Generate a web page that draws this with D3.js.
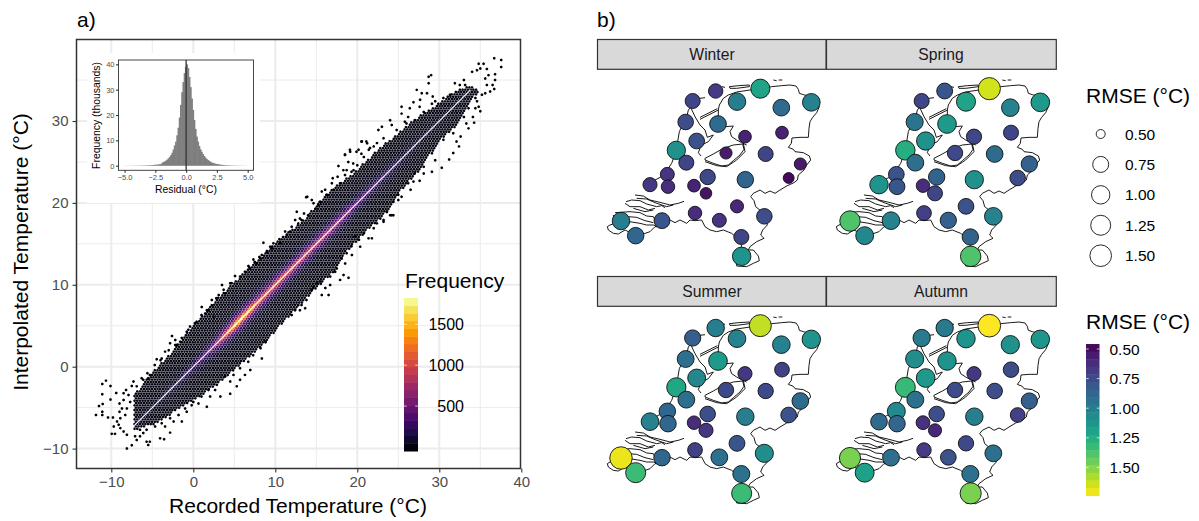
<!DOCTYPE html>
<html>
<head>
<meta charset="utf-8">
<script src="https://cdn.jsdelivr.net/npm/d3@7"></script>
<style>
  html, body { margin: 0; background: #fff; }
  svg { display: block; }
  text { font-family: "Liberation Sans", Arial, sans-serif; }
</style>
</head>
<body>
<script>
// ---- panel a: edges of the dense band (deg C)
var upperRec = [-7.3,-6.5,-4.9,-2.8,-0.8,0.8,2.9,4.9,7.3,10.2,13.4,16.3,19.5,22.4,24,26.8,29.3,31.7,33.5,34.8];
var upperInt = [-3.2,-2.6,-0.6,1.6,4.1,5.9,8.3,10.2,12.6,15.3,17.9,21.2,23.6,26.4,27.7,30.1,31.7,33.5,34.3,33.8];
var lowerRec = [-7.3,-4.5,-2,0.4,3.3,6.1,8.5,11.8,14.2,17.1,19.1,21.5,24,25.4,27.6,30.1,32.1,34,34.8];
var lowerInt = [-7.8,-6.9,-5.3,-3.9,-1.8,0.6,2.65,6.3,8.8,11.6,14.5,16.9,19.3,21.6,24,27.7,29.4,32.7,33.5];
// count along the 1:1 line and how it falls off with the residual
var ridgeRec = [-8,-4,-2,0,2,4,5,6,7,8,10,12,14,16,18,20,22,24,26,28,30,32,35];
var ridgeFreq = [30,100,180,300,500,1300,1750,1820,1650,1300,1250,1150,1050,950,750,500,350,250,150,90,60,30,5];
var profileRes = [0,0.25,0.5,0.75,1,1.5,2,3,5];
var profileShare = [1,0.75,0.48,0.3,0.18,0.07,0.025,0.005,0.001];
// single cells outside of the dense band
var outlierRec = [-11.87,-11.1,-10.65,-10.1,-9.4,-11.1,-10.1,-11.5,-11.05,-11.1,-11.1,-10.4,-9.8,-9,-8.5,-8.2,-7.3,-7.5,-7.9,-8.7,-9,-8.5,-7.7,-8.1,-8.3,-8.9,-9.3,-9.1,-9.7,-8.9,-9.95,-9.55,-8.5,-8.1,-7.1,-6.5,-7.5,-8.1,-6.9,-5.7,-5.3,-5.5,-6.1,-4.05,-3.56,-2.83,-3.44,-2.4,-1.4,-0.8,-0.2,1.65,0.63,2.05,3.3,2.66,4.5,5.3,4.5,6.3,5.7,6.95,8.36,8.8,-6.3,-5.6,-5.5,-4.46,-4,-3.44,-2.6,-2.83,-2.2,-2,-1.6,-0.8,-0.4,0.4,1.03,1.44,1.65,2.46,2.26,2.8,3.5,3.9,5.09,4.68,7.33,7.74,6.72,8.06,8.55,8.35,9.37,9.77,10.5,11.2,12,12.62,12.42,13,13.5,13.9,13.76,14.45,14.66,15.27,15.67,16.08,16.9,17,17.6,17.7,18.3,18.5,19.13,18.9,19.54,20.15,20.56,21.2,12,13,13.64,13.2,14.66,15.67,16.5,15.47,16.69,17.3,18.93,18.32,17.9,18.52,19.34,20.35,19.74,21.37,21.78,23.2,24,24.4,25,18.5,19.1,19.9,20.5,21.1,22.57,23,24,24.2,25.4,26.2,25.4,26,26.4,26.85,27.25,27.86,27.66,28.5,27.6,29.2,28.7,29,28.7,29.5,31.9,33,33.15,34,34.6,34.8,35.4,35,35.8,36,36.7,37.55,37.55,36.8,36.8,36.5,35.6,35.8,36.7,36.2,35.2,35.6,34.6,34.8,35,34.4,34.1,34.25,33.3,33.56,32.6,32.1,32.4,31.7,31.2,29.5,30.3,29.1,28.1,27.6,26.85,26.5,25.4,24.2,23.2,22.4];
var outlierInt = [-5.9,-2.1,-1.7,-2.35,-3.2,-3.37,-4,-4.8,-4.55,-5.5,-5.9,-6.2,-6.2,-4.5,-3.25,-2.85,-1.8,-2.35,-3.45,-5.1,-5.5,-4.06,-4.3,-5.1,-5.9,-6.3,-6.7,-7.1,-7.3,-7.5,-8.2,-8.2,-7.9,-8.3,-8.5,-8.5,-9.6,-10,-8.95,-9.15,-9.15,-9.55,-8.1,-8.75,-8.85,-8.05,-7.3,-6.7,-6.7,-5.5,-4.7,-4.9,-4.5,-3.65,-3.65,-2.85,-3.3,-2.4,-1.8,-1,-1.6,-0.4,1,3.06,-1.4,-0.8,-1.4,0.9,0.8,1.84,3.75,2.86,3.26,2.65,3.06,4.28,4.9,5.5,7.3,6.5,6.9,6.1,8.15,8.35,9.98,8.96,11.07,10.18,13.1,12.6,12.3,13.4,15.14,13.64,14.66,15.06,15.55,16.5,17.1,18.93,17.9,18.1,18.7,20.76,20.7,20.35,19.95,19.74,21.4,21.6,22.4,23,23.2,24.5,24,25.85,26.25,25,24,26.5,27.5,27.27,6.3,6.9,7.13,7.53,9.77,8.75,8.75,10.4,9.98,11.6,10.87,11.2,10.6,12.6,13.64,14.66,15.9,15.67,15.67,17.9,18.5,18.5,20.35,25.9,26.5,26.25,27.5,27.5,28.9,29.3,30.1,29.5,31.75,30.5,30.9,29.7,31.55,32.3,33.8,33.4,32.6,33.4,31.75,33,35.4,35.6,34.6,32.4,34.6,35,34.4,36,36.2,37,37,36.4,36.35,35.6,37.65,37.45,36.6,35.7,35,34.4,35.2,34.4,33.9,33.6,33.2,33.4,32.4,31.75,31.2,31.55,30.5,29.8,29.7,29.1,28.1,27.5,26.9,26.1,25.3,25.2,24.3,23.8,23.6,22.7,22.6,21.6,20.75,18.5,17.7,17.5];
// cells hugging the edge of the band
var fringeRec = [5.7,6.3,6.9,7.5,8.2,9,9.6,10.6,11.4,11.8,12.8,13.2,14,14.9,15.5,16.3,17.1,17.9,18.5,19.3,20,20.8,21.4,22,12.4,12.8,13.8,14.45,15.1,16.1,16.7,17.5,18.1,18.7,19.3,20.2,20.8,22,22.8,23.6,-6.9,-6.1,-5.3,-4.7,-3.85,-3,-2.2,-1.4,-0.6,0.2,1,1.85,2.26,3.1,3.7,4.5,-6.5,-5.7,-4.66,-3.85,-2.83,-1.8,-1,0,1,1.85,2.87,3.9,4.9,5.7,6.7,7.3,8.2,18.7,19.5,20.5,21.55,22.4,23.2,24.8,25.8,27,28.1,29.1,30.5,31.3,32.5,24.4,25,26.2,27,28.1,29.1,30.5,31.7,33,33.56,34.4];
var fringeInt = [11,11.6,12,12.8,13.2,14,14.45,15.1,16.1,16.5,17.5,17.9,18.5,19.3,20.15,21,21.6,22.4,23.4,23.8,24.6,25.6,26.5,26.9,6.9,7.5,8.15,9.4,10.2,9.6,11,12,13.2,13.85,14.7,15.5,16.3,16.9,18.1,18.9,-2.4,-1.6,-1,0.2,1,2,2.65,3.5,4.5,5.3,6.3,6.9,7.5,8.76,9.4,10.2,-7.7,-7.7,-7.3,-6.9,-6.3,-5.9,-5.1,-4.3,-3.65,-2.85,-2.2,-1.2,-1,-0.2,0.6,1.4,2.25,24,24.8,26,26.7,27.3,27.9,28.9,29.9,30.1,31.1,32.1,32.8,33.2,34.4,20.15,21,22.4,23.6,24.4,26.05,27.7,28.5,30.5,31.55,32.8];
var freqBreaks = [500,1000,1500];
var tempTicks = [-10,0,10,20,30,40];
var tempTicksY = [-10,0,10,20,30];

// ---- inset histogram, thousands per 0.1 degree bin from -5 to 5
var histCounts = [0.03,0.03,0.03,0.03,0.04,0.04,0.05,0.05,0.05,0.06,
  0.07,0.07,0.08,0.09,0.1,0.11,0.12,0.13,0.15,0.17,
  0.2,0.23,0.26,0.3,0.34,0.38,0.43,0.5,0.57,0.65,
  1.2,1.45,1.7,2,2.4,2.9,3.5,4.2,5.1,6.4,
  8,9.5,12,15,19,24,29,33,36.5,39,
  40,38.5,35,31,26.5,22,18,14.5,11.5,9.5,
  7.8,6.5,5.5,4.6,3.8,3.2,2.7,2.3,1.9,1.6,
  1.3,1.1,0.95,0.8,0.7,0.6,0.5,0.42,0.36,0.3,
  0.26,0.22,0.19,0.16,0.14,0.12,0.1,0.09,0.08,0.07,
  0.06,0.05,0.05,0.04,0.04,0.03,0.03,0.03,0.02,0.02];

// ---- panel b: station position in map units and RMSE per season
var stationEast = [377,308,441,511,574,664,287,384,320,465,576,259,408,527,289,631,232,180,234,312,353,348,466,596,441,315,388,523,216,93,137,454,455];
var stationNorth = [183,213,215,176,233,217,276,282,333,320,308,361,369,372,398,402,433,464,470,467,441,490,449,444,529,549,571,559,572,573,617,621,679];
var seasons = ["Winter","Spring","Summer","Autumn"];
var rmseWinter = [.68,.72,1,1.2,.9,1.02,.76,.9,.78,.58,.58,1.1,.55,.72,.72,.55,.65,.66,.62,.58,.74,.52,.87,.49,.6,.62,.65,.76,.8,1,.88,.72,1.12];
var rmseSpring = [.8,.72,1.2,1.65,1.02,1.15,.95,1.15,1.1,.73,.72,1.25,.74,.9,.92,.85,.78,1.12,.8,.62,.86,.72,1.1,.75,.78,.7,.85,1.02,1.02,1.38,1.05,.86,1.38];
var rmseSummer = [1,.84,1.02,1.62,1.02,1.12,.92,1.15,1.05,.66,.7,1.22,.74,.74,.92,.9,.88,1.02,.88,.62,.76,.66,1,.78,.8,.7,.92,1.08,.88,1.7,1.33,.94,1.33];
var rmseAutumn = [.98,.98,1.12,1.74,1.1,1.13,1.08,1.12,1.15,.66,.75,1.32,.75,.76,.93,.84,1.06,.9,.88,.64,.76,.6,1,.7,.74,.68,.78,.92,.92,1.48,1.18,.94,1.48];
var rmseBreaks = [0.5,0.75,1,1.25,1.5];

// coast and border lines, in the same map units
var mapLines = [
  [[385,240],[388,225],[400,205],[415,195],[440,186],[480,180],[510,178],[545,170],[575,167],[600,165],[618,168],[625,178],[628,190],[640,194],[664,200],[688,230],[680,248],[668,262],[660,275],[657,295],[655,322],[630,322],[606,324],[604,340],[595,352],[610,358],[615,365],[640,368],[658,378],[662,390],[650,405],[642,420],[625,435],[622,450],[612,458],[590,468],[570,480],[555,490],[540,483],[525,490],[510,480],[490,490],[482,500],[492,512],[497,530],[512,542],[525,560],[532,585],[518,600],[512,615],[522,625],[500,635],[480,650],[475,660],[490,660],[505,678],[508,692],[490,700],[470,710],[440,708],[440,690],[445,665],[455,648],[448,630],[425,610],[400,600],[380,605],[360,600],[345,590],[335,570],[315,572],[300,570],[290,580],[270,570],[255,578],[240,570],[225,580],[216,590],[195,590],[180,605],[160,612],[130,612],[105,600],[85,612],[70,610],[55,600],[52,590],[60,585],[75,580],[70,555]],
  [[259,361],[263,335],[268,305],[275,290],[287,276],[295,240],[302,232],[315,260],[330,285],[345,300],[352,322],[370,315],[355,335],[335,345],[330,355],[325,368],[333,378]],
  [[259,361],[245,400],[235,415],[232,433],[215,440],[195,450],[180,464]],
  [[345,385],[370,372],[400,355],[430,345],[458,342],[462,358],[450,375],[430,392],[415,405],[395,408],[370,400],[345,390],[345,385]],
  [[345,395],[380,407],[410,410],[440,390],[465,365],[460,340]],
  [[330,268],[385,240]],
  [[330,262],[382,236]],
  [[385,240],[385,282],[408,290],[430,288],[420,305],[425,320],[440,330],[455,338],[470,345]],
  [[418,170],[445,167],[478,165],[478,170],[440,175],[420,175],[418,170]],
  [[330,205],[345,203]],
  [[395,170],[405,172]],
  [[550,150],[560,152]],
  [[566,150],[577,150]],
  [[135,495],[160,498],[180,510],[210,517],[240,525],[265,520],[282,514]],
  [[140,505],[170,507],[195,518],[230,530],[250,525]],
  [[108,515],[125,510],[150,512],[170,522],[200,530],[215,527],[225,533]],
  [[105,520],[120,530],[150,530],[175,540],[195,535]],
  [[130,535],[165,545],[190,540]],
  [[75,548],[120,545],[150,548],[170,558],[190,560],[195,570]],
  [[115,560],[140,562],[165,572],[190,578]],
  [[118,575],[150,580],[170,585],[190,585],[200,590]]
];

var width = 1199, height = 521;
var svg = d3.select("body").append("svg").attr("width", width).attr("height", height);

// ---------- panel a
var left = 76.5, right = 520.5, top_ = 39.5, bottom = 468.5;
var x = d3.scaleLinear().domain([0, 40]).range([193.3, 521.3]);
var y = d3.scaleLinear().domain([0, 30]).range([366.7, 121]);

var pa = svg.append("g");
pa.append("rect").attr("x", left).attr("y", top_).attr("width", right - left).attr("height", bottom - top_).attr("fill", "#fff");

var grid = pa.append("g").attr("stroke", "#ececec");
d3.range(-10, 40, 5).forEach(function(d) {
  grid.append("line").attr("x1", x(d)).attr("x2", x(d)).attr("y1", top_).attr("y2", bottom)
    .attr("stroke-width", d % 10 == 0 ? 2 : 1);
});
d3.range(-10, 40, 5).forEach(function(d) {
  grid.append("line").attr("x1", left).attr("x2", right).attr("y1", y(d)).attr("y2", y(d))
    .attr("stroke-width", d % 10 == 0 ? 2 : 1);
});

// hex cells
var upperEdge = d3.scaleLinear().domain(upperRec).range(upperInt);
var lowerEdge = d3.scaleLinear().domain(lowerRec).range(lowerInt);
var ridge = d3.scaleLinear().domain(ridgeRec).range(ridgeFreq).clamp(true);
var profile = d3.scaleLinear().domain(profileRes).range(profileShare).clamp(true);
var freqToT = d3.scaleLinear().domain([-49, 1822]).range([0, 1]).clamp(true);

var hexW = 2.7, hexR = hexW / Math.sqrt(3), hexDy = hexR * 1.5;
function hexPath(cx, cy, r) {
  var s = "";
  for (var i = 0; i < 6; i++) {
    var a = Math.PI / 3 * i + Math.PI / 6;
    s += (i ? "L" : "M") + (cx + r * Math.cos(a)).toFixed(2) + "," + (cy + r * Math.sin(a)).toFixed(2);
  }
  return s + "Z";
}

var cells = [];
var row = 0;
for (var py = bottom; py > top_; py -= hexDy) {
  for (var px = left + (row % 2) * hexW / 2; px < right; px += hexW) {
    var rec = x.invert(px), inter = y.invert(py);
    if (rec < upperRec[0] || rec > upperRec[upperRec.length - 1]) continue;
    if (inter > upperEdge(rec) || inter < lowerEdge(rec)) continue;
    var f = ridge(rec) * profile(Math.abs(inter - rec));
    cells.push({px: px, py: py, f: Math.max(1, f)});
  }
  row++;
}
pa.append("g").selectAll("path").data(cells).enter().append("path")
  .attr("d", function(d) { return hexPath(d.px, d.py, hexR * 0.91); })
  .attr("fill", function(d) { return d3.interpolateInferno(freqToT(d.f)); });

pa.append("g").selectAll("path").data(outlierRec).enter().append("path")
  .attr("d", function(d, i) { return hexPath(x(d), y(outlierInt[i]), hexR * 0.95); })
  .attr("fill", "#000004");
pa.append("g").selectAll("path").data(fringeRec).enter().append("path")
  .attr("d", function(d, i) { return hexPath(x(d), y(fringeInt[i]), hexR * 0.95); })
  .attr("fill", "#000004");

// 1:1 line
pa.append("line")
  .attr("x1", x(-7.2)).attr("y1", y(-7.2)).attr("x2", x(33.8)).attr("y2", y(33.8))
  .attr("stroke", "#fff").attr("stroke-width", 1.2).attr("opacity", 0.95);

pa.append("rect").attr("x", left).attr("y", top_).attr("width", right - left).attr("height", bottom - top_)
  .attr("fill", "none").attr("stroke", "#333").attr("stroke-width", 1.5);

var xAxis = d3.axisBottom(x).tickValues(tempTicks).tickSize(4).tickPadding(4).tickFormat(d3.format("d"));
var yAxis = d3.axisLeft(y).tickValues(tempTicksY).tickSize(4).tickPadding(4).tickFormat(d3.format("d"));
function styleAxis(g, size) {
  g.select(".domain").remove();
  g.selectAll("line").attr("stroke", "#333").attr("stroke-width", 1.1);
  g.selectAll("text").attr("fill", "#4d4d4d").style("font-size", size + "px")
    .style("font-family", '"Liberation Sans", Arial, sans-serif');
}
pa.append("g").attr("transform", "translate(0," + bottom + ")").call(xAxis).call(styleAxis, 15);
pa.append("g").attr("transform", "translate(" + left + ",0)").call(yAxis).call(styleAxis, 15);

pa.append("text").attr("x", 298).attr("y", 513).attr("text-anchor", "middle")
  .style("font-size", "21px").text("Recorded Temperature (°C)");
pa.append("text").attr("transform", "translate(28,252) rotate(-90)").attr("text-anchor", "middle")
  .style("font-size", "21px").text("Interpolated Temperature (°C)");
svg.append("text").attr("x", 77).attr("y", 27).style("font-size", "21px").text("a)");
svg.append("text").attr("x", 597).attr("y", 27).style("font-size", "21px").text("b)");

// frequency legend
var lg = svg.append("g");
var fy = d3.scaleLinear().domain([0, 1500]).range([447, 324.3]);
lg.append("text").attr("x", 405).attr("y", 288).style("font-size", "21px").text("Frequency");
var nBand = 20;
var fBands = d3.range(nBand).map(function(i) { return -49 + (1822 + 49) * i / nBand; });
var fStep = (1822 + 49) / nBand;
lg.selectAll("rect.band").data(fBands).enter().append("rect").attr("class", "band")
  .attr("x", 404).attr("width", 14)
  .attr("y", function(d) { return fy(d + fStep); })
  .attr("height", function(d) { return fy(d) - fy(d + fStep) + 0.5; })
  .attr("fill", function(d) { return d3.interpolateInferno(freqToT(d + fStep / 2)); });
freqBreaks.forEach(function(b) {
  lg.append("line").attr("x1", 404).attr("x2", 406.8).attr("y1", fy(b)).attr("y2", fy(b)).attr("stroke", "#fff").attr("stroke-width", 0.7);
  lg.append("line").attr("x1", 415.2).attr("x2", 418).attr("y1", fy(b)).attr("y2", fy(b)).attr("stroke", "#fff").attr("stroke-width", 0.7);
  lg.append("text").attr("x", 464).attr("y", fy(b) + 5.5).attr("text-anchor", "end").style("font-size", "16px").text(b);
});

// ---------- inset
var ix = d3.scaleLinear().domain([-5, 5]).range([124.6, 247.7]);
var iy = d3.scaleLinear().domain([0, 40]).range([165.7, 64.3]);
var ins = svg.append("g");
ins.append("rect").attr("x", 87).attr("y", 53).attr("width", 173).attr("height", 150).attr("fill", "#fff");
ins.selectAll("rect.bar").data(histCounts).enter().append("rect").attr("class", "bar")
  .attr("x", function(d, i) { return ix(-5 + i * 0.1); })
  .attr("width", ix(0.1) - ix(0) + 0.6)
  .attr("y", function(d) { return iy(d); })
  .attr("height", function(d) { return iy(0) - iy(d); })
  .attr("fill", "#7f7f7f");
ins.append("line").attr("x1", ix(0)).attr("x2", ix(0)).attr("y1", 60).attr("y2", 170.3)
  .attr("stroke", "#333").attr("stroke-opacity", 0.85).attr("stroke-width", 1.5);
ins.append("rect").attr("x", 118.5).attr("y", 60).attr("width", 135).attr("height", 110.3)
  .attr("fill", "none").attr("stroke", "#333").attr("stroke-width", 0.9);
ins.append("g").attr("transform", "translate(0,170.3)")
  .call(d3.axisBottom(ix).tickValues([-5,-2.5,0,2.5,5]).tickSize(2.5).tickPadding(1.5).tickFormat(d3.format(".1f")))
  .call(styleAxis, 7.5);
ins.append("g").attr("transform", "translate(118.5,0)")
  .call(d3.axisLeft(iy).tickValues([0,10,20,30,40]).tickSize(2.5).tickPadding(1.5).tickFormat(d3.format("d")))
  .call(styleAxis, 7.5);
ins.append("text").attr("x", 186).attr("y", 193).attr("text-anchor", "middle").style("font-size", "10.4px").text("Residual (°C)");
ins.append("text").attr("transform", "translate(100,115.5) rotate(-90)").attr("text-anchor", "middle")
  .style("font-size", "10.4px").text("Frequency (thousands)");

// ---------- panel b
var mx = d3.scaleLinear().domain([0, 720]).range([590, 830]);
var my = d3.scaleLinear().domain([0, 735]).range([30, 275]);
var rmseToT = d3.scaleLinear().domain([0.458, 1.738]).range([0, 1]).clamp(true);
var radius = d3.scaleLinear().domain([0.46,0.5,0.62,0.75,1,1.25,1.5,1.74]).range([5,5.6,6.75,7.75,8.75,9.75,10.65,11.35]);
var line = d3.line().x(function(d) { return mx(d[0]); }).y(function(d) { return my(d[1]); });
var seasonRmse = [rmseWinter, rmseSpring, rmseSummer, rmseAutumn];
var facetDx = [0, 229, 0, 229], facetDy = [0, 0, 237, 237];

seasons.forEach(function(name, k) {
  var f = svg.append("g").attr("transform", "translate(" + facetDx[k] + "," + facetDy[k] + ")");
  f.append("rect").attr("x", 597.5).attr("y", 39.5).attr("width", k % 2 ? 229.8 : 228.6).attr("height", 29.8)
    .attr("fill", "#d9d9d9").attr("stroke", "#333").attr("stroke-width", 1.2);
  f.append("text").attr("x", 597.5 + 114.5).attr("y", 59.5).attr("text-anchor", "middle")
    .attr("fill", "#1a1a1a").style("font-size", "15.7px").text(name);
  f.append("g").selectAll("path").data(mapLines).enter().append("path")
    .attr("d", line).attr("fill", "none").attr("stroke", "#000").attr("stroke-width", 0.9)
    .attr("stroke-linejoin", "round");
  f.append("g").selectAll("circle").data(seasonRmse[k]).enter().append("circle")
    .attr("cx", function(d, i) { return mx(stationEast[i]); })
    .attr("cy", function(d, i) { return my(stationNorth[i]); })
    .attr("r", function(d) { return radius(d); })
    .attr("fill", function(d) { return d3.interpolateViridis(rmseToT(d)); })
    .attr("stroke", "#111").attr("stroke-width", 0.9);
});

// size legend
var legendR = d3.scaleLinear().domain(rmseBreaks).range([4.5, 8, 9.2, 10, 10.8]);
var legendY = d3.scaleLinear().domain([0.5, 1.5]).range([134, 255.7]);
var sl = svg.append("g");
sl.append("text").attr("x", 1086).attr("y", 103).style("font-size", "21px").text("RMSE (°C)");
rmseBreaks.forEach(function(b) {
  sl.append("circle").attr("cx", 1100.7).attr("cy", legendY(b)).attr("r", legendR(b))
    .attr("fill", "#fff").attr("stroke", "#111").attr("stroke-width", 0.9);
  sl.append("text").attr("x", 1125).attr("y", legendY(b) + 5.5).style("font-size", "15.5px").text(d3.format(".2f")(b));
});

// colour legend
var cy = d3.scaleLinear().domain([0.5, 1.5]).range([349, 467.4]);
var cl = svg.append("g");
cl.append("text").attr("x", 1086).attr("y", 329).style("font-size", "21px").text("RMSE (°C)");
var rBands = d3.range(nBand).map(function(i) { return 0.458 + 1.28 * i / nBand; });
var rStep = 1.28 / nBand;
cl.selectAll("rect").data(rBands).enter().append("rect")
  .attr("x", 1086).attr("width", 13.5)
  .attr("y", function(d) { return cy(d); })
  .attr("height", function(d) { return cy(d + rStep) - cy(d) + 0.5; })
  .attr("fill", function(d) { return d3.interpolateViridis(rmseToT(d + rStep / 2)); });
rmseBreaks.forEach(function(b) {
  cl.append("line").attr("x1", 1086).attr("x2", 1088.7).attr("y1", cy(b)).attr("y2", cy(b)).attr("stroke", "#fff").attr("stroke-width", 0.7);
  cl.append("line").attr("x1", 1096.8).attr("x2", 1099.5).attr("y1", cy(b)).attr("y2", cy(b)).attr("stroke", "#fff").attr("stroke-width", 0.7);
  cl.append("text").attr("x", 1109.5).attr("y", cy(b) + 5.5).style("font-size", "15.5px").text(d3.format(".2f")(b));
});
</script>
</body>
</html>
